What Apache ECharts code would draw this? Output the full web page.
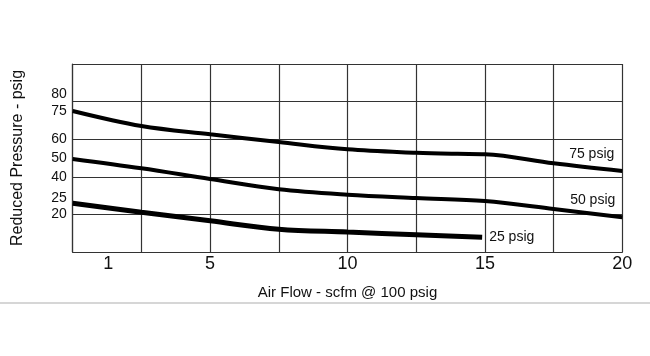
<!DOCTYPE html>
<html>
<head>
<meta charset="utf-8">
<script src="https://cdn.jsdelivr.net/npm/echarts@6/dist/echarts.min.js"></script>
<style>
  html, body { margin: 0; padding: 0; background: #fff; }
  #chart { width: 650px; height: 302px; border-bottom: 2px solid #d6d6d6; }
</style>
</head>
<body>
<div id="chart"></div>
<script>
// Air flow (scfm @ 100 psig) sample points for each curve
const flow75 = [0, 2.5, 5, 7.5, 10, 12.5, 14, 15, 17.5, 20];
const pressure75 = [75.0, 67.0, 62.6, 58.5, 54.6, 52.8, 52.2, 52.0, 47.2, 43.1];

const flow50 = [0, 2.5, 5, 7.5, 10, 12.5, 15, 17.5, 20];
const pressure50 = [49.5, 44.5, 38.8, 33.4, 30.5, 28.7, 27.1, 22.9, 18.5];

const flow25 = [0, 2.5, 5, 7.5, 10, 12.5, 14.9];
const pressure25 = [25.9, 21.1, 16.6, 12.1, 10.6, 9.2, 7.8];

const seriesNames = ['75 psig', '50 psig', '25 psig'];
const xTickLabels = [1, 5, 10, 15, 20];
const yTickLabels = [20, 25, 40, 50, 60, 75, 80];
const xAxisTitle = 'Air Flow - scfm @ 100 psig';
const yAxisTitle = 'Reduced Pressure - psig';

const FONT = 'Liberation Sans, Arial, Helvetica, sans-serif';

function pairs(xs, ys) { return xs.map((x, i) => [x, ys[i]]); }

function endLabel(text, align, offset) {
  return {
    show: true, formatter: text, distance: 0, align: align, verticalAlign: 'middle',
    offset: offset, fontFamily: FONT, fontSize: 14, color: '#111'
  };
}

const chart = echarts.init(document.getElementById('chart'), null, { renderer: 'canvas' });

const gridLine = { show: true, lineStyle: { color: '#333', width: 1.2 } };

chart.setOption({
  animation: false,
  backgroundColor: '#fff',
  grid: { left: 72.7, right: 27.7, top: 64, bottom: 50, containLabel: false, outerBoundsMode: 'none' },
  xAxis: {
    type: 'value', min: 0, max: 20, interval: 2.5,
    axisLine: { show: true, onZero: false, lineStyle: { color: '#333', width: 1.2 } },
    axisTick: { show: false },
    splitLine: gridLine,
    axisLabel: {
      customValues: xTickLabels,
      margin: 3,
      fontFamily: FONT, fontSize: 18, color: '#111',
      formatter: v => v === xTickLabels[0] ? '{s|' + v + '}' : String(v),
      rich: { s: { fontFamily: FONT, fontSize: 18, color: '#111', padding: [0, 0, 0, 16] } }
    },
    name: xAxisTitle, nameLocation: 'middle', nameGap: 33,
    nameTextStyle: { fontFamily: FONT, fontSize: 15, color: '#111' }
  },
  yAxis: {
    type: 'value', min: 0, max: 100, interval: 20,
    axisLine: { show: true, lineStyle: { color: '#333', width: 1.2 } },
    axisTick: { show: false },
    splitLine: gridLine,
    axisLabel: {
      customValues: yTickLabels,
      hideOverlap: false,
      margin: 6,
      fontFamily: FONT, fontSize: 14, color: '#111',
      formatter: v => (v === 80 || v === 25) ? '{u|' + v + '}' : String(v),
      rich: { u: { fontFamily: FONT, fontSize: 14, color: '#111', padding: [0, 0, 14, 0] } }
    },
    name: yAxisTitle, nameLocation: 'middle', nameGap: 47,
    nameTextStyle: { fontFamily: FONT, fontSize: 16, color: '#111' }
  },
  series: [
    {
      name: seriesNames[0], type: 'line', smooth: 0.35, symbol: 'none',
      lineStyle: { color: '#000', width: 4 },
      endLabel: endLabel(seriesNames[0], 'right', [-8, -17]),
      data: pairs(flow75, pressure75)
    },
    {
      name: seriesNames[1], type: 'line', smooth: 0.35, symbol: 'none',
      lineStyle: { color: '#000', width: 4 },
      endLabel: endLabel(seriesNames[1], 'right', [-7, -17]),
      data: pairs(flow50, pressure50)
    },
    {
      name: seriesNames[2], type: 'line', smooth: 0.35, symbol: 'none',
      lineStyle: { color: '#000', width: 5 },
      endLabel: endLabel(seriesNames[2], 'left', [7, 0]),
      data: pairs(flow25, pressure25)
    }
  ]
});
</script>
</body>
</html>
